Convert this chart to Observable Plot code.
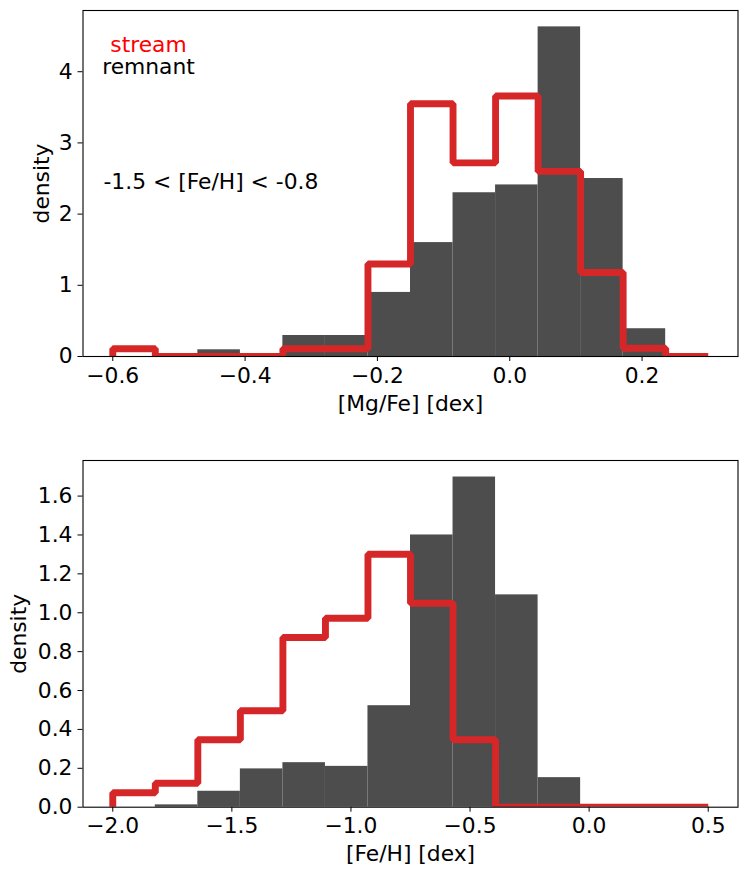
<!DOCTYPE html>
<html><head><meta charset="utf-8">
<script src="https://cdn.jsdelivr.net/npm/d3@7"></script>
<script src="https://cdn.jsdelivr.net/npm/@observablehq/plot@0.6"></script>
<style>
body{margin:0;background:#fff;}
#chart{width:748px;}
#chart svg{display:block;}
</style>
</head><body><div id="chart"></div>
<script>
// ---- data ----
const mgfeEdges = [-0.6, -0.5357, -0.4714, -0.4071, -0.3429, -0.2786, -0.2143, -0.15, -0.0857, -0.0214, 0.0429, 0.1071, 0.1714, 0.2357, 0.3];
const mgfeStream = [0.108, 0, 0, 0, 0.108, 0.108, 1.30, 3.55, 2.72, 3.66, 2.60, 1.18, 0.115, 0];
const mgfeRemnant = [0, 0, 0.094, 0, 0.295, 0.295, 0.90, 1.60, 2.30, 2.41, 4.63, 2.50, 0.39, 0];

const fehEdges = [-2.0, -1.8214, -1.6429, -1.4643, -1.2857, -1.1071, -0.9286, -0.75, -0.5714, -0.3929, -0.2143, -0.0357, 0.1429, 0.3214, 0.5];
const fehStream = [0.074, 0.123, 0.347, 0.496, 0.873, 0.972, 1.301, 1.049, 0.347, 0, 0, 0, 0, 0];
const fehRemnant = [0, 0.012, 0.082, 0.197, 0.229, 0.210, 0.522, 1.400, 1.698, 1.092, 0.152, 0, 0, 0];

const mgfeTicks = [-0.6, -0.4, -0.2, 0.0, 0.2];
const mgfeDensityTicks = [0, 1, 2, 3, 4];
const fehTicks = [-2.0, -1.5, -1.0, -0.5, 0.0, 0.5];
const fehDensityTicks = [0.0, 0.2, 0.4, 0.6, 0.8, 1.0, 1.2, 1.4, 1.6];

const legendStream = "stream";
const legendRemnant = "remnant";
const annotation = "-1.5 < [Fe/H] < -0.8";
const mgfeXLabel = "[Mg/Fe] [dex]";
const fehXLabel = "[Fe/H] [dex]";
const yLabel = "density";

// ---- helpers ----
const FONT = "DejaVu Sans";
const FS = 21.8;
const RED = "#d62728";
const GRAY = "#4d4d4d";

function bars(edges, vals) {
  return vals.map((v, i) => ({x1: edges[i], x2: edges[i + 1], y: v})).filter(d => d.y > 0);
}
function stepPoints(edges, vals) {
  const pts = [{x: edges[0], y: 0}];
  vals.forEach((v, i) => { pts.push({x: edges[i], y: v}, {x: edges[i + 1], y: v}); });
  pts.push({x: edges[edges.length - 1], y: 0});
  return pts;
}

function panel({edges, stream, remnant, xDomain, yDomain, xTicks, yTicks, yFormat, xLabel, height, marginTop, marginBottom, yLabelDx, extra}) {
  return Plot.plot({
    width: 748,
    height,
    marginLeft: 82.5,
    marginRight: 10.5,
    marginTop,
    marginBottom,
    style: {fontFamily: FONT, fontSize: FS + "px", background: "white", color: "black", overflow: "visible"},
    x: {domain: xDomain, ticks: xTicks, tickFormat: d3.format(".1f"), tickSize: 5, tickPadding: 5.8, label: null},
    y: {domain: yDomain, ticks: yTicks, tickFormat: d3.format(yFormat), tickSize: 5, tickPadding: 5.5, label: null},
    marks: [
      Plot.rectY(bars(edges, remnant), {x1: "x1", x2: "x2", y: "y", fill: GRAY}),
      Plot.line(stepPoints(edges, stream), {x: "x", y: "y", stroke: RED, strokeWidth: 6.9, strokeLinejoin: "miter", strokeLinecap: "butt", clip: true}),
      Plot.frame({stroke: "black", strokeWidth: 1.1}),
      Plot.text([xLabel], {text: d => d, frameAnchor: "bottom", dy: 54, lineAnchor: "bottom", textAnchor: "middle", fontSize: FS, fill: "black"}),
      Plot.text([yLabel], {text: d => d, frameAnchor: "left", rotate: -90, dx: yLabelDx, lineAnchor: "bottom", textAnchor: "middle", fontSize: FS, fill: "black"}),
      ...(extra || [])
    ]
  });
}

const topPanel = panel({
  edges: mgfeEdges, stream: mgfeStream, remnant: mgfeRemnant,
  xDomain: [-0.645, 0.345], yDomain: [0, 4.86],
  xTicks: mgfeTicks, yTicks: mgfeDensityTicks, yFormat: "d",
  xLabel: mgfeXLabel, height: 440, marginTop: 10, marginBottom: 84, yLabelDx: -34.5,
  extra: [
    Plot.text([legendStream], {text: d => d, frameAnchor: "top-left", dx: 65.5, dy: 41.5, lineAnchor: "bottom", textAnchor: "middle", fontSize: FS, fill: "red"}),
    Plot.text([legendRemnant], {text: d => d, frameAnchor: "top-left", dx: 65.5, dy: 63.2, lineAnchor: "bottom", textAnchor: "middle", fontSize: FS, fill: "black"}),
    Plot.text([annotation], {text: d => d, frameAnchor: "top-left", dx: 20.5, dy: 178.8, lineAnchor: "bottom", textAnchor: "start", fontSize: FS, fill: "black"})
  ]
});

const bottomPanel = panel({
  edges: fehEdges, stream: fehStream, remnant: fehRemnant,
  xDomain: [-2.125, 0.625], yDomain: [0, 1.783],
  xTicks: fehTicks, yTicks: fehDensityTicks, yFormat: ".1f",
  xLabel: fehXLabel, height: 436, marginTop: 20, marginBottom: 69.3, yLabelDx: -57
});

document.getElementById("chart").append(topPanel, bottomPanel);
</script>
</body></html>
